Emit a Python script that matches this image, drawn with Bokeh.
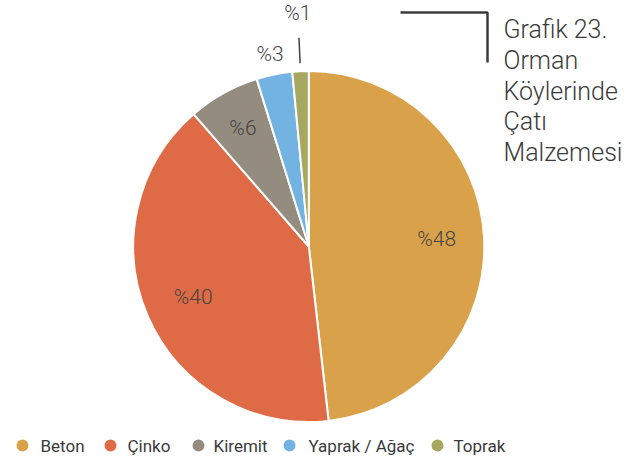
import math
from bokeh.plotting import figure
from bokeh.models import Range1d, ColumnDataSource
from bokeh.core.properties import value
from bokeh.embed import file_html
from bokeh.resources import INLINE

# ---- data ----
categories = ["Beton", "Çinko", "Kiremit", "Yaprak / Ağaç", "Toprak"]
shares = [48.2, 40.4, 6.6, 3.3, 1.5]
labels = ["%48", "%40", "%6", "%3", "%1"]
colors = ["#D9A24A", "#DE6B45", "#958C80", "#73B3E2", "#A6A862"]
title_lines = ["Grafik 23.", "Orman", "Köylerinde", "Çatı", "Malzemesi"]

W, H = 629, 463
OFF = 0
p = figure(width=W, height=H, x_range=Range1d(0, W), y_range=Range1d(0, H),
           output_backend="svg", toolbar_location=None, min_border=0)
p.axis.visible = False
p.grid.visible = False
p.outline_line_color = None
p.background_fill_color = "white"
p.border_fill_color = "white"

def sy(y):  # screen y -> data y
    return H - (y - OFF)
def sx(x):
    return x - OFF

cx, cy, r = sx(308.3), sy(246.0), 175.5

total = sum(shares)
starts, ends, mids = [], [], []
acc = 0.0
for s in shares:
    a0 = acc / total * 2 * math.pi
    acc += s
    a1 = acc / total * 2 * math.pi
    starts.append(math.pi / 2 - a1)
    ends.append(math.pi / 2 - a0)
    mids.append((a0 + a1) / 2)

src = ColumnDataSource(dict(start=starts, end=ends, color=colors, cat=categories))
p.wedge(x=cx, y=cy, radius=r, start_angle="start", end_angle="end",
        fill_color="color", line_color="white", line_width=2, source=src)

# slice labels
rfac = [0.73, 0.72, 0.77, 1.12, 1.33]
lx, ly = [], []
for m, f in zip(mids, rfac):
    lx.append(cx + math.sin(m) * r * f)
    ly.append(cy + math.cos(m) * r * f)
p.text(x=lx, y=ly, text=labels, text_font=value("Roboto Light"), text_font_size="21px",
       text_color="#444444", text_align="center", text_baseline="middle")

# leader line for the smallest slice
m = mids[4]
p.segment(x0=cx + math.sin(m) * r * 1.045, y0=cy + math.cos(m) * r * 1.045,
          x1=cx + math.sin(m) * r * 1.19, y1=cy + math.cos(m) * r * 1.19,
          line_color="#444444", line_width=1.5)

# title bracket
p.line(x=[sx(400), sx(487), sx(487)], y=[sy(12), sy(12), sy(62)],
       line_color="#3d3d3d", line_width=2.5)

# title
base = [28.5, 59.5, 90.5, 121.0, 151.5]
p.text(x=[sx(503)] * len(title_lines), y=[sy(b) for b in base], text=title_lines,
       text_font=value("Roboto Light"), text_font_size="25px", text_color="#3a3a3a",
       text_align="left", text_baseline="alphabetic")

# legend
cxs = [22, 110, 198, 289, 437]
txs = [40, 127, 213, 308, 453]
p.scatter(x=[sx(v) for v in cxs], y=[sy(445)] * 5, size=12, marker="circle",
          fill_color=colors, line_color=None)
p.text(x=[sx(v) for v in txs], y=[sy(445)] * 5, text=categories,
       text_font=value("Roboto"), text_font_size="17px", text_color="#3a3a3a",
       text_align="left", text_baseline="middle")

open("out.html", "w").write(file_html(p, INLINE))
